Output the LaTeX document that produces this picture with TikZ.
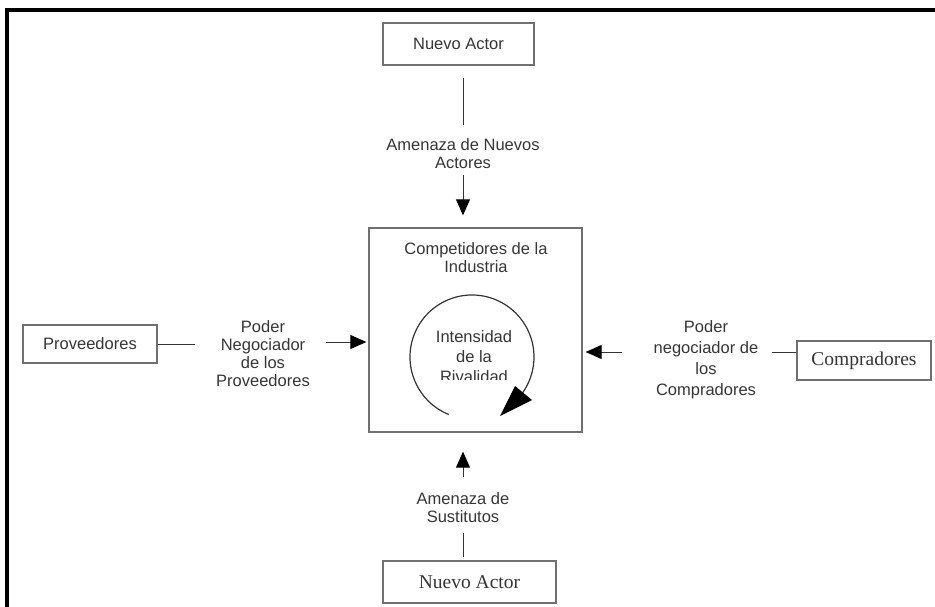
\documentclass[tikz,border=0pt]{standalone}
\usepackage{fontspec}
\setmainfont{Liberation Sans}
\newfontfamily\serifface{Liberation Serif}
\usetikzlibrary{arrows.meta}
\definecolor{ink}{HTML}{363636}
\definecolor{rulegray}{HTML}{707070}
\begin{document}
\begin{tikzpicture}[x=1pt,y=-1pt,
  box/.style={draw=rulegray,line width=1.3pt,inner sep=0pt,text=ink},
  sansfont/.style={font=\fontsize{16.5}{18}\selectfont},
  seriffont/.style={font=\serifface\fontsize{19.5}{22}\selectfont},
  lbl/.style={align=center,text=ink,inner sep=0pt,sansfont},
  conn/.style={draw=black!80,line width=0.9pt},
  arr/.style={conn,-{Triangle[length=16pt,width=14pt,fill=black,color=black]}}]
\useasboundingbox (0,0) rectangle (935,607);
\fill[white] (0,0) rectangle (935,607);
% outer frame (top and left edges)
\draw[line width=4pt] (7,607) -- (7,10) -- (935,10);

% boxes
\node[box,sansfont,minimum width=151pt,minimum height=42pt] (na) at (458.5,44) {Nuevo Actor};
\node[box,minimum width=213pt,minimum height=204pt] (comp) at (475.5,330) {};
\node[box,sansfont,minimum width=134pt,minimum height=38pt] (pv) at (90,344) {Proveedores};
\node[box,seriffont,minimum width=134pt,minimum height=39pt] (cp) at (864,360.5) {Compradores};
\node[box,seriffont,minimum width=173pt,minimum height=42pt] (nb) at (469.5,582) {Nuevo Actor};

% labels
\node[lbl] (tl) at (463,154) {Amenaza de Nuevos\\Actores};
\node[lbl] (ci) at (476,257.5) {Competidores de la\\Industria};
\node[lbl] (pl) at (263,353.5) {Poder\\Negociador\\de los\\Proveedores};
\node[lbl,font=\fontsize{16.5}{21}\selectfont] (rl) at (706,360) {Poder\\negociador de\\los\\Compradores};
\node[lbl] (bl) at (463,507.5) {Amenaza de\\Sustitutos};
\begin{scope}
  \clip (400,300) rectangle (560,379);
  \node[lbl,font=\fontsize{16.5}{20}\selectfont] (riv) at (474,357) {Intensidad\\de la\\Rivalidad};
\end{scope}

% rivalry cycle
\coordinate (cc) at (472,357);
\draw[black!80,line width=1.2pt] (cc) ++(112:62) arc[start angle=112,end angle=395,radius=62];
\fill[black] (500,416) -- (515,386) -- (532,400) -- cycle;

% connectors
\coordinate (t1) at (463,78);
\coordinate (t2) at (463,125);
\coordinate (t3) at (463,175);
\draw[conn] (t1) -- (t2);
\draw[arr,shorten >=12pt] (t3) -- (t3 |- comp.north);

\coordinate (l1) at (195,344);
\coordinate (l2) at (326,342);
\draw[conn] (pv.east) -- (l1);
\draw[arr,shorten >=2pt] (l2) -- (l2 -| comp.west);

\coordinate (r1) at (772,352.7);
\coordinate (r2) at (622,352);
\draw[conn] (r1) -- (r1 -| cp.west);
\draw[arr,shorten >=3pt] (r2) -- (r2 -| comp.east);

\coordinate (b1) at (463,477);
\coordinate (b2) at (463,533);
\draw[arr,shorten >=19pt] (b1) -- (b1 |- comp.south);
\draw[conn,shorten >=3pt] (b2) -- (b2 |- nb.north);
\end{tikzpicture}
\end{document}
